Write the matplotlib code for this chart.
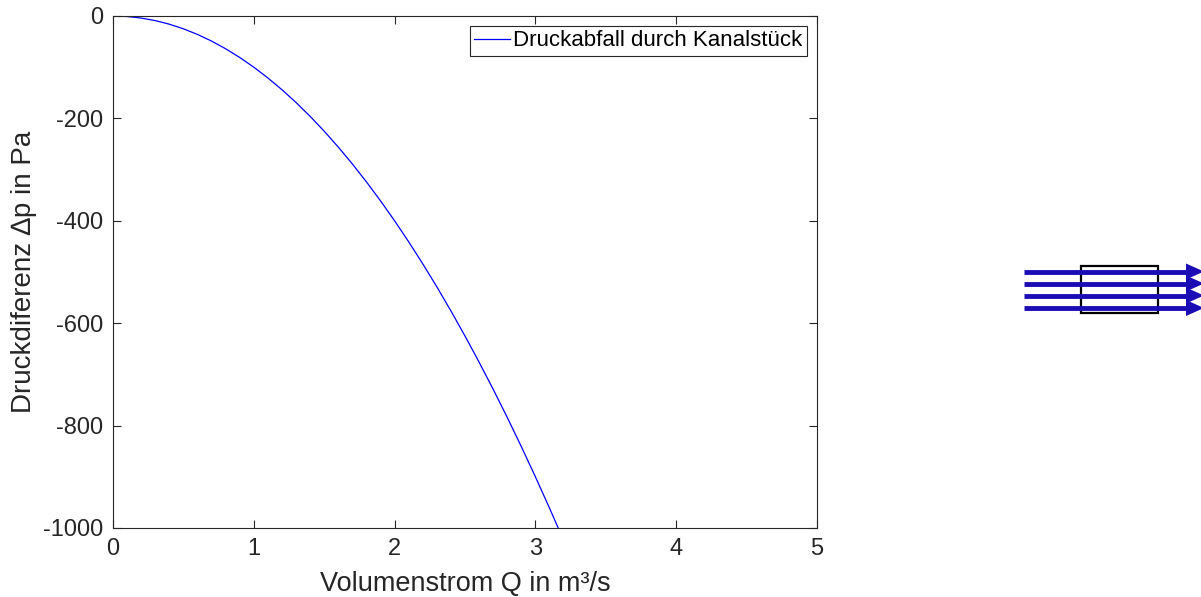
import numpy as np
import matplotlib.pyplot as plt
from matplotlib.patches import Rectangle, Polygon

plt.rcParams['font.family'] = ['Liberation Sans', 'DejaVu Sans']
plt.rcParams['axes.unicode_minus'] = False

Q = [0.0, 0.1, 0.2, 0.3, 0.4, 0.5, 0.6, 0.7, 0.8, 0.9, 1.0,
     1.1, 1.2, 1.3, 1.4, 1.5, 1.6, 1.7, 1.8, 1.9, 2.0,
     2.1, 2.2, 2.3, 2.4, 2.5, 2.6, 2.7, 2.8, 2.9, 3.0,
     3.1, 3.2]
dp = [0, -1, -4, -9, -16, -25, -36, -49, -64, -81, -100,
      -121, -144, -169, -196, -225, -256, -289, -324, -361, -400,
      -441, -484, -529, -576, -625, -676, -729, -784, -841, -900,
      -961, -1024]

x_ticks = [0, 1, 2, 3, 4, 5]
y_ticks = [-1000, -800, -600, -400, -200, 0]

W, H = 1201, 597
fig = plt.figure(figsize=(W / 100, H / 100), dpi=100)

# Hauptachse (Pixelgrenzen des Rahmens)
left, right, top, bottom = 113, 817, 16, 528
ax = fig.add_axes([left / W, 1 - bottom / H, (right - left) / W, (bottom - top) / H])
ax.plot(Q, dp, color='#0000ff', linewidth=0.9, label='Druckabfall durch Kanalstück')
ax.set_xlim(0, 5)
ax.set_ylim(-1000, 0)
ax.set_xticks(x_ticks)
ax.set_yticks(y_ticks)
ax.set_xlabel('Volumenstrom Q in m³/s', fontsize=19.5, color='#262626', labelpad=8)
ax.set_ylabel('Druckdiferenz ∆p in Pa', fontsize=20, color='#262626', labelpad=4)
ax.tick_params(direction='in', top=True, right=True, labelsize=17,
               colors='#262626', length=6, width=0.8, pad=7)
for s in ax.spines.values():
    s.set_color('#262626')
    s.set_linewidth(0.8)
leg = ax.legend(loc='upper right', fontsize=16, fancybox=False, framealpha=1,
                edgecolor='#262626', handlelength=1.6, handletextpad=0.15,
                borderpad=0.2, borderaxespad=0.45)
leg.get_frame().set_linewidth(0.8)

# Symbol: Kanalstück mit Strömungspfeilen
icon = fig.add_axes([0, 0, 1, 1], zorder=-1)
icon.set_xlim(0, W)
icon.set_ylim(H, 0)
icon.axis('off')
arrow_color = '#1a0db5'
for y in [271.5, 283.5, 295.5, 308]:
    icon.plot([1024, 1190], [y, y], color=arrow_color, linewidth=3.5,
              solid_capstyle='butt')
    icon.add_patch(Polygon([[1186, y - 8], [1204, y], [1186, y + 8]],
                           closed=True, color=arrow_color, linewidth=0))
icon.add_patch(Rectangle((1081, 266), 77, 47, fill=False,
                         edgecolor='black', linewidth=1.6))

plt.savefig('out.png', dpi=100)
